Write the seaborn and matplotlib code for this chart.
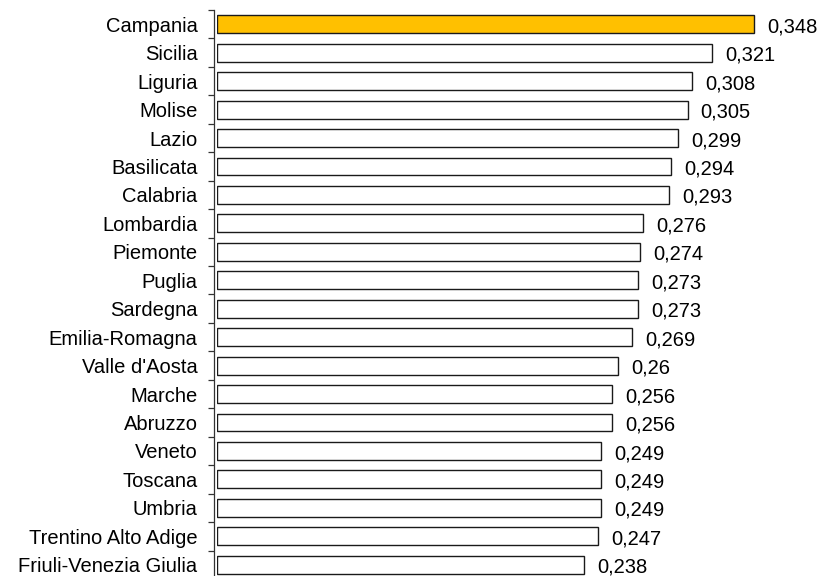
import numpy as np
import pandas as pd
import seaborn as sns
import matplotlib.pyplot as plt
from matplotlib.ticker import FixedLocator

# Regional values (sorted, highest first)
regions = ["Campania", "Sicilia", "Liguria", "Molise", "Lazio", "Basilicata",
           "Calabria", "Lombardia", "Piemonte", "Puglia", "Sardegna",
           "Emilia-Romagna", "Valle d'Aosta", "Marche", "Abruzzo", "Veneto",
           "Toscana", "Umbria", "Trentino Alto Adige", "Friuli-Venezia Giulia"]
values = [0.348, 0.321, 0.308, 0.305, 0.299, 0.294, 0.293, 0.276, 0.274, 0.273,
          0.273, 0.269, 0.26, 0.256, 0.256, 0.249, 0.249, 0.249, 0.247, 0.238]
highlight = "Campania"

df = pd.DataFrame({"region": regions, "value": values})
palette = {r: ("#FFC000" if r == highlight else "white") for r in regions}

sns.set_style("white")
plt.rcParams["font.family"] = ["Liberation Sans", "DejaVu Sans"]
plt.rcParams["text.color"] = "black"
plt.rcParams["ytick.color"] = "black"
plt.rcParams["ytick.labelcolor"] = "black"

fig = plt.figure(figsize=(8.26, 5.76), dpi=100)
# axes placed in pixel terms; bottom runs past the figure edge like the source
ax = fig.add_axes([217 / 826, 1 - 579 / 576, (800 - 217) / 826, (579 - 10) / 576])

sns.barplot(data=df, y="region", x="value", hue="region", palette=palette,
            order=regions, legend=False, orient="h", width=0.63,
            saturation=1, edgecolor="#1a1a1a", linewidth=1.0, ax=ax)

ax.set_xlim(0, (800 - 217) / 1543)
ax.set_ylim(len(regions) - 0.5, -0.5)

for i, v in enumerate(values):
    ax.text(v + 0.0085, i + 0.02, str(v).replace(".", ","), va="center_baseline",
            ha="left", fontsize=14.5, color="black")

for s in ["top", "right", "bottom"]:
    ax.spines[s].set_visible(False)
ax.spines["left"].set_color("#333333")
ax.spines["left"].set_linewidth(0.9)
ax.spines["left"].set_position(("outward", 2.5))

ax.set_xticks([])
ax.set_xlabel("")
ax.set_ylabel("")
ax.tick_params(axis="y", which="major", left=False, length=0, pad=11.5,
               labelsize=14.5, labelcolor="black")
ax.yaxis.set_minor_locator(FixedLocator(np.arange(-0.5, len(regions), 1.0)))
ax.tick_params(axis="y", which="minor", left=True, length=4.5, width=0.9,
               color="#333333", direction="out")

fig.savefig("out.png", dpi=100)
